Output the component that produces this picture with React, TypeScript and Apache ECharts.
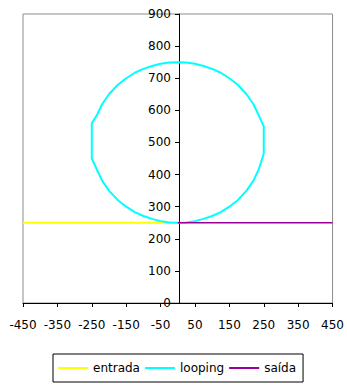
import React, { useEffect, useRef } from "react";
import * as echarts from "echarts";

// Horizontal entry and exit paths at height 250
const entradaX = [-450, 0];
const entradaY = [250, 250];
const saidaX = [0, 450];
const saidaY = [250, 250];

// Loop points, traced from the bottom going left (clockwise) and back to the bottom
const loopingX = [
  0, -25, -50, -75, -100, -125, -150, -175, -200, -220, -235, -250, -250, -235, -220, -200, -175, -150, -125, -100, -75, -50, -25,
  0, 25, 50, 75, 100, 125, 150, 175, 200, 220, 235, 250, 250, 235, 220, 200, 175, 150, 125, 100, 75, 50, 25, 0,
];
const loopingY = [
  250, 251, 255, 262, 271, 283, 300, 321, 350, 381, 415, 450, 560, 585, 619, 650, 679, 700, 717, 729, 738, 745, 749,
  750, 749, 745, 738, 729, 717, 700, 679, 650, 619, 585, 550, 465, 415, 381, 350, 321, 300, 283, 271, 262, 255, 251, 250,
];

const xTicks = [-450, -350, -250, -150, -50, 50, 150, 250, 350, 450];

const pairs = (xs: number[], ys: number[]) => xs.map((x, i) => [x, ys[i]]);

const FONT = "DejaVu Sans";

// Plot area
const GRID_LEFT = 23;
const GRID_RIGHT = 12;
const WIDTH = 347;
const X_MIN = -450;
const X_MAX = 450;
// Shift the vertical axis from the left edge of the plot to x = 0
const yAxisShift = -((0 - X_MIN) / (X_MAX - X_MIN)) * (WIDTH - GRID_LEFT - GRID_RIGHT);

export default function App() {
  const ref = useRef<HTMLDivElement>(null);

  useEffect(() => {
    if (!ref.current) return;
    const chart = echarts.init(ref.current, null, { renderer: "svg" });
    chart.setOption({
      animation: false,
      backgroundColor: "#ffffff",
      textStyle: { fontFamily: FONT },
      grid: {
        left: GRID_LEFT,
        right: GRID_RIGHT,
        top: 14,
        bottom: 82,
        show: true,
        borderColor: "#8c8c8c",
        borderWidth: 1,
        backgroundColor: "transparent",
      },
      xAxis: {
        type: "value",
        min: X_MIN,
        max: X_MAX,
        axisLine: { show: true, onZero: false, lineStyle: { color: "#000", width: 1 } },
        axisTick: { show: true, length: 4, customValues: xTicks, lineStyle: { color: "#000" } },
        axisLabel: {
          customValues: xTicks,
          color: "#000",
          fontFamily: FONT,
          fontSize: 12,
          margin: 16,
        },
        splitLine: { show: false },
      },
      yAxis: {
        type: "value",
        min: 0,
        max: 900,
        interval: 100,
        position: "left",
        offset: yAxisShift,
        axisLine: { show: true, onZero: false, lineStyle: { color: "#000", width: 1 } },
        axisTick: { show: true, length: 4, lineStyle: { color: "#000" } },
        axisLabel: { color: "#000", fontFamily: FONT, fontSize: 12, margin: 8 },
        splitLine: { show: false },
      },
      legend: {
        left: 53,
        top: 354,
        orient: "horizontal",
        icon: "rect",
        itemWidth: 30,
        itemHeight: 2,
        itemGap: 5,
        padding: [8, 7, 8, 5],
        borderColor: "#000",
        borderWidth: 1,
        textStyle: { color: "#000", fontFamily: FONT, fontSize: 12, padding: [0, 0, 0, 0] },
        data: ["entrada", "looping", "saída"],
      },
      series: [
        {
          name: "entrada",
          type: "line",
          data: pairs(entradaX, entradaY),
          showSymbol: false,
          symbol: "none",
          lineStyle: { color: "#ffff00", width: 2 },
          itemStyle: { color: "#ffff00" },
        },
        {
          name: "looping",
          type: "line",
          data: pairs(loopingX, loopingY),
          showSymbol: false,
          symbol: "none",
          lineStyle: { color: "#00ffff", width: 2 },
          itemStyle: { color: "#00ffff" },
        },
        {
          name: "saída",
          type: "line",
          data: pairs(saidaX, saidaY),
          showSymbol: false,
          symbol: "none",
          lineStyle: { color: "#990099", width: 1.5 },
          itemStyle: { color: "#990099" },
        },
      ],
    });
    return () => chart.dispose();
  }, []);

  return (
    <div
      ref={ref}
      style={{ position: "fixed", left: 0, top: 0, width: WIDTH, height: 385, background: "#fff" }}
    />
  );
}
